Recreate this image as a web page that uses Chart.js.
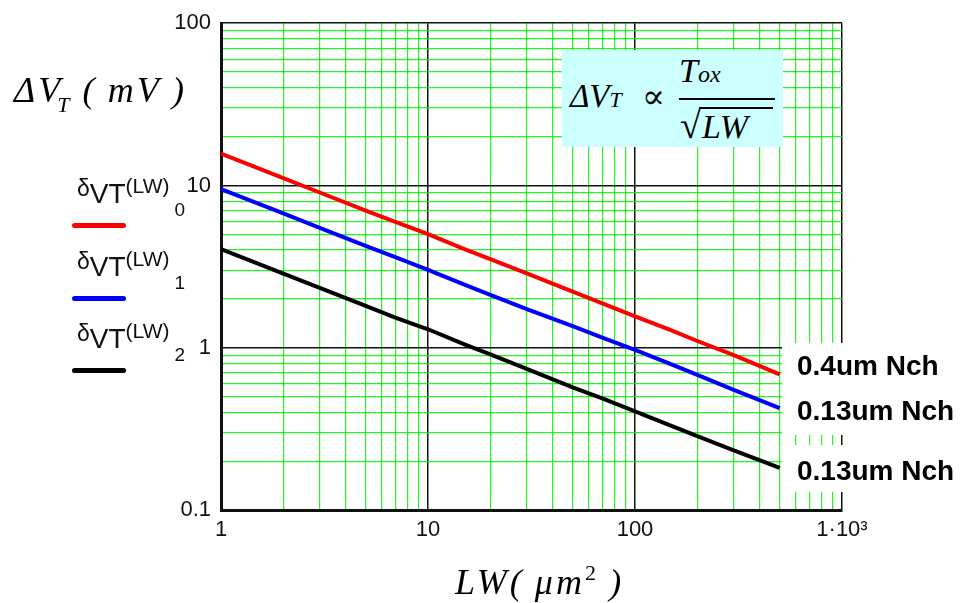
<!DOCTYPE html>
<html>
<head>
<meta charset="utf-8">
<script src="https://cdn.jsdelivr.net/npm/chart.js@4/dist/chart.umd.min.js"></script>
<style>
  body { margin: 0; background: #fff; }
  #wrap { position: relative; width: 961px; height: 603px; overflow: hidden; }
  #chart { position: absolute; left: 0; top: 0; }
  .math { position: absolute; font-family: "Liberation Serif", "DejaVu Serif", serif; font-style: italic; color: #000; white-space: nowrap; line-height: 1; }
  .leg { position: absolute; left: 77px; font-family: "Liberation Sans", Arial, sans-serif; color: #111; white-space: nowrap; line-height: 1; }
  .leg .sw { position: absolute; left: -5px; width: 54px; height: 5px; border-radius: 3px; }
  .tag { position: absolute; left: 782px; width: 179px; background: #fff; }
  .tag span { position: absolute; left: 15px; font-family: "Liberation Sans", Arial, sans-serif; font-weight: bold; font-size: 28px; color: #000; white-space: nowrap; line-height: 1; }
</style>
</head>
<body>
<div id="wrap">
  <canvas id="chart" width="961" height="603"></canvas>

  <!-- y axis title -->
  <div class="math" style="left:14px; top:72px; font-size:36px; letter-spacing:3px;">ΔV<span style="font-size:22px; position:relative; top:10px; margin-left:-6px;">T</span>&#8201;(&#8201;mV&#8201;)</div>

  <!-- x axis title -->
  <div class="math" style="left:455px; top:564px; font-size:36px; letter-spacing:3px;">LW(&#8201;μm<span style="font-size:22px; font-style:normal; position:relative; top:-14px;">2</span>&#8201;)</div>

  <!-- formula box -->
  <div style="position:absolute; left:562px; top:50px; width:221px; height:97px; background:#ccffff;">
    <div class="math" style="left:8px; top:30px; font-size:33px;">ΔV<span style="font-size:22px;">T</span></div>
    <div class="math" style="left:80px; top:30px; font-size:34px; font-style:normal;">∝</div>
    <div class="math" style="left:117px; top:4px; font-size:34px;">T<span style="font-size:24px;">ox</span></div>
    <div style="position:absolute; left:117px; top:48px; width:96px; height:2px; background:#000;"></div>
    <div class="math" style="left:118px; top:56px; font-size:38px; font-style:normal;">√</div>
    <div style="position:absolute; left:137px; top:57px; width:74px; height:2px; background:#000;"></div>
    <div class="math" style="left:140px; top:60px; font-size:34px;">LW</div>
  </div>

  <!-- curve tags on the right -->
  <div class="tag" style="top:343px; height:92px;">
    <span style="top:9px;">0.4um Nch</span>
    <span style="top:54px;">0.13um Nch</span>
  </div>
  <div class="tag" style="top:445px; height:47px;">
    <span style="top:12px;">0.13um Nch</span>
  </div>

  <div id="legend"></div>
</div>

<script>
// LW values (um^2) and mismatch sigma (mV)
const lwValues = [1, 2, 3, 5, 7, 10, 15, 20, 30, 50, 70, 100, 150, 200, 300, 500];
const sigma0 = [15.7, 11.1, 9.05, 7.0, 5.95, 5.02, 4.05, 3.52, 2.87, 2.22, 1.87, 1.56, 1.28, 1.10, 0.90, 0.685];
const sigma1 = [9.5, 6.72, 5.48, 4.25, 3.6, 3.02, 2.45, 2.12, 1.73, 1.36, 1.15, 0.97, 0.79, 0.68, 0.55, 0.425];
const sigma2 = [4.05, 2.86, 2.34, 1.81, 1.53, 1.30, 1.05, 0.91, 0.74, 0.57, 0.485, 0.405, 0.33, 0.285, 0.233, 0.182];

const seriesIdx = ['0', '1', '2'];
const seriesColors = ['#ff0000', '#0000ff', '#000000'];

// axis decades and labels
const xDecades = [1, 10, 100, 1000];
const xDecadeText = ['1', '10', '100', '1·10³'];
const yDecades = [0.1, 1, 10, 100];
const yDecadeText = ['0.1', '1', '10', '100'];
const minorSteps = [2, 3, 4, 5, 6, 7, 8, 9];

// legend (html)
const legend = document.getElementById('legend');
seriesIdx.forEach((idx, i) => {
    const top = 173 + i * 72.5;
    const d = document.createElement('div');
    d.className = 'leg';
    d.style.top = top + 'px';
    d.innerHTML = `
        <span style="font-size:23px;">δ</span><span style="font-size:28px; position:relative; top:7px;">VT</span><span style="font-size:21px; position:relative; top:-3px;">(LW)</span><span style="font-size:19px; position:relative; top:20px; margin-left:5px;">${idx}</span>
        <div class="sw" style="top:50px; background:${seriesColors[i]};"></div>`;
    legend.appendChild(d);
});

function gridTicks(decades) {
    const out = [];
    decades.forEach((d, i) => {
        out.push({ value: d, major: true });
        if (i < decades.length - 1) {
            minorSteps.forEach(m => out.push({ value: d * m, major: false }));
        }
    });
    return out;
}

function toPoints(ys) {
    return lwValues.map((x, i) => ({ x: x, y: ys[i] }));
}

const isDecade = v => Math.abs(Math.log10(v) - Math.round(Math.log10(v))) < 1e-9;

const gridColor = ctx => (ctx.tick && isDecade(ctx.tick.value)) ? '#111111' : 'rgba(0,240,0,0.85)';
const gridWidth = ctx => (ctx.tick && isDecade(ctx.tick.value)) ? 1.5 : 1.2;

new Chart(document.getElementById('chart'), {
    type: 'line',
    data: {
        datasets: [sigma0, sigma1, sigma2].map((s, i) => ({
            label: 'δVT(LW)' + seriesIdx[i],
            data: toPoints(s),
            borderColor: seriesColors[i],
            borderWidth: 4,
            pointRadius: 0,
            tension: 0,
            fill: false
        }))
    },
    options: {
        responsive: false,
        animation: false,
        layout: { padding: { left: 161, right: 119, top: 18, bottom: 43 } },
        plugins: {
            legend: { display: false },
            tooltip: { enabled: false }
        },
        scales: {
            x: {
                type: 'logarithmic',
                min: 1,
                max: 1000,
                afterBuildTicks: scale => { scale.ticks = gridTicks(xDecades); },
                afterFit: scale => { scale.height = 50; },
                border: { color: '#111', width: 3 },
                grid: { color: gridColor, lineWidth: gridWidth, drawTicks: false },
                ticks: {
                    autoSkip: false,
                    maxRotation: 0,
                    padding: 7,
                    color: '#111',
                    font: { family: 'Liberation Sans, Arial, sans-serif', size: 22 },
                    callback: v => {
                        const k = xDecades.indexOf(v);
                        return k >= 0 ? xDecadeText[k] : '';
                    }
                }
            },
            y: {
                type: 'logarithmic',
                min: 0.1,
                max: 100,
                afterBuildTicks: scale => { scale.ticks = gridTicks(yDecades); },
                afterFit: scale => { scale.width = 60; },
                border: { color: '#111', width: 3 },
                grid: { color: gridColor, lineWidth: gridWidth, drawTicks: false },
                ticks: {
                    autoSkip: false,
                    padding: 10,
                    color: '#111',
                    font: { family: 'Liberation Sans, Arial, sans-serif', size: 22 },
                    callback: v => {
                        const k = yDecades.findIndex(d => Math.abs(d - v) < 1e-9);
                        return k >= 0 ? yDecadeText[k] : '';
                    }
                }
            }
        }
    }
});
</script>
</body>
</html>
